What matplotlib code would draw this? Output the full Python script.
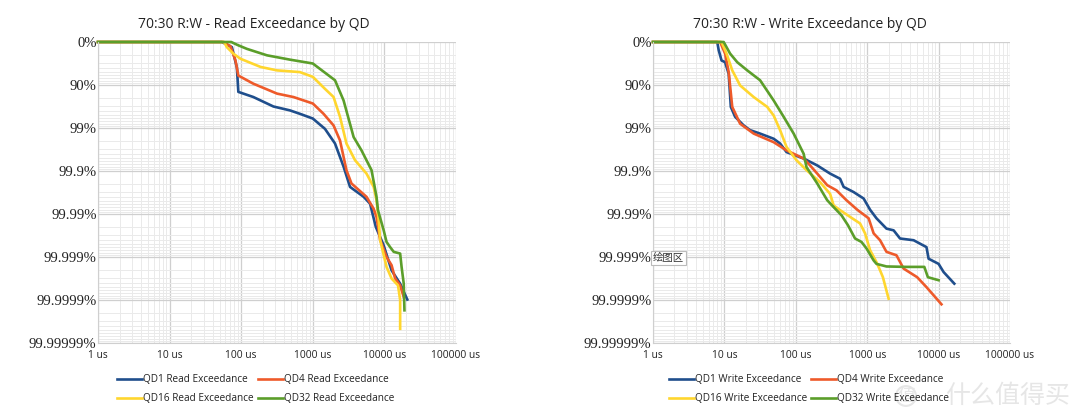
import numpy as np
import matplotlib
matplotlib.use("Agg")
import matplotlib.pyplot as plt
from matplotlib.ticker import LogLocator, NullFormatter

# x values are log10(latency in us); y values are "nines" = -log10(1 - p)
read_qd1_x = [0.0, 1.73, 1.87, 1.94, 1.96, 2.17, 2.45, 2.68, 2.82, 3.0, 3.17, 3.31, 3.43, 3.52, 3.71, 3.8, 3.88, 3.99, 4.1, 4.22, 4.32]
read_qd1_y = [0.0, 0.0, 0.12, 0.6, 1.16, 1.28, 1.5, 1.59, 1.67, 1.78, 2.02, 2.36, 2.9, 3.37, 3.6, 3.76, 4.3, 4.73, 5.31, 5.62, 5.99]
read_qd4_x = [0.0, 1.75, 1.85, 1.92, 1.96, 2.17, 2.5, 2.73, 3.0, 3.15, 3.29, 3.38, 3.47, 3.54, 3.75, 3.85, 3.89, 3.94, 4.03, 4.1, 4.15, 4.22, 4.27]
read_qd4_y = [0.0, 0.0, 0.1, 0.43, 0.78, 0.97, 1.2, 1.28, 1.43, 1.67, 1.94, 2.29, 2.98, 3.29, 3.6, 3.88, 4.07, 4.6, 5.0, 5.19, 5.5, 5.66, 5.93]
read_qd16_x = [0.0, 1.76, 1.8, 1.89, 1.99, 2.27, 2.5, 2.82, 3.0, 3.17, 3.29, 3.38, 3.47, 3.59, 3.75, 3.85, 3.89, 3.92, 3.94, 4.03, 4.1, 4.19, 4.22, 4.22]
read_qd16_y = [0.0, 0.0, 0.12, 0.27, 0.39, 0.58, 0.66, 0.7, 0.81, 1.09, 1.28, 1.74, 2.36, 2.75, 3.06, 3.37, 3.68, 4.15, 4.6, 5.23, 5.5, 5.66, 6.0, 6.67]
read_qd32_x = [0.0, 1.86, 1.95, 2.08, 2.36, 2.68, 3.0, 3.31, 3.43, 3.57, 3.68, 3.82, 3.89, 3.91, 3.99, 4.03, 4.08, 4.13, 4.22, 4.24, 4.27, 4.28]
read_qd32_y = [0.0, 0.0, 0.07, 0.16, 0.31, 0.41, 0.5, 0.89, 1.36, 2.21, 2.52, 2.98, 3.6, 3.91, 4.38, 4.65, 4.77, 4.88, 4.92, 5.23, 5.62, 6.24]

write_qd1_x = [0.0, 0.9, 0.92, 0.96, 1.01, 1.06, 1.09, 1.15, 1.27, 1.36, 1.5, 1.69, 1.78, 1.87, 2.11, 2.3, 2.48, 2.62, 2.67, 2.81, 2.95, 3.04, 3.13, 3.27, 3.37, 3.46, 3.65, 3.74, 3.83, 3.86, 4.0, 4.07, 4.22]
write_qd1_y = [0.0, 0.0, 0.19, 0.43, 0.47, 0.74, 1.51, 1.74, 1.94, 2.05, 2.13, 2.25, 2.36, 2.56, 2.71, 2.87, 3.06, 3.18, 3.37, 3.49, 3.64, 3.9, 4.1, 4.34, 4.38, 4.57, 4.61, 4.69, 4.77, 5.04, 5.16, 5.35, 5.62]
write_qd4_x = [0.0, 0.94, 1.01, 1.06, 1.11, 1.22, 1.41, 1.69, 1.87, 2.11, 2.2, 2.3, 2.44, 2.57, 2.71, 2.86, 3.02, 3.09, 3.18, 3.27, 3.41, 3.51, 3.7, 3.83, 4.04]
write_qd4_y = [0.0, 0.0, 0.27, 0.7, 1.51, 1.9, 2.13, 2.33, 2.52, 2.71, 2.87, 3.06, 3.33, 3.45, 3.68, 3.9, 4.1, 4.45, 4.61, 4.88, 4.96, 5.27, 5.47, 5.7, 6.1]
write_qd16_x = [0.0, 0.96, 1.03, 1.11, 1.22, 1.41, 1.6, 1.69, 1.78, 1.87, 2.01, 2.15, 2.34, 2.48, 2.53, 2.62, 2.79, 2.9, 2.97, 3.04, 3.13, 3.18, 3.22, 3.3]
write_qd16_y = [0.0, 0.0, 0.27, 0.66, 1.01, 1.28, 1.51, 1.71, 2.05, 2.44, 2.75, 2.98, 3.26, 3.53, 3.8, 3.91, 4.1, 4.22, 4.45, 4.84, 5.12, 5.31, 5.47, 5.97]
write_qd32_x = [0.0, 0.99, 1.08, 1.18, 1.32, 1.5, 1.69, 1.83, 1.97, 2.11, 2.15, 2.3, 2.44, 2.53, 2.64, 2.73, 2.83, 2.92, 2.99, 3.09, 3.13, 3.27, 3.55, 3.8, 3.85, 4.0]
write_qd32_y = [0.0, 0.0, 0.27, 0.47, 0.66, 0.89, 1.36, 1.74, 2.13, 2.6, 2.91, 3.29, 3.68, 3.84, 4.03, 4.26, 4.57, 4.65, 4.8, 5.08, 5.16, 5.22, 5.23, 5.23, 5.47, 5.54]

y_tick_labels = ["0%", "90%", "99%", "99.9%", "99.99%", "99.999%", "99.9999%", "99.99999%"]
x_tick_labels = ["1 us", "10 us", "100 us", "1000 us", "10000 us", "100000 us"]

colors = ["#1F4E8C", "#EE5A2A", "#FFD62E", "#5B9E2A"]
qd_names = ["QD1", "QD4", "QD16", "QD32"]

plt.rcParams['font.family'] = ['Open Sans', 'DejaVu Sans']

fig = plt.figure(figsize=(10.8, 4.2), dpi=100)
fig.patch.set_facecolor("white")

def setup(ax):
    ax.set_xscale('log')
    ax.set_yscale('log')
    ax.set_xlim(1, 1e5)
    ax.set_ylim(1e7, 1)
    ax.xaxis.set_minor_locator(LogLocator(base=10, subs=np.arange(2, 10)))
    ax.yaxis.set_minor_locator(LogLocator(base=10, subs=np.arange(2, 10)))
    ax.xaxis.set_minor_formatter(NullFormatter())
    ax.yaxis.set_minor_formatter(NullFormatter())
    ax.grid(True, which='major', color='#CFCFCF', linewidth=0.9)
    ax.grid(True, which='minor', color='#EAEAEA', linewidth=0.7)
    ax.tick_params(which='both', length=0)
    ax.tick_params(axis='x', pad=5)
    ax.tick_params(axis='y', pad=1)
    for s in ['top', 'right']:
        ax.spines[s].set_visible(False)
    for s in ['left', 'bottom']:
        ax.spines[s].set_color('#CFCFCF')
    ax.set_axisbelow(True)
    ax.set_yticks([10.0 ** k for k in range(8)])
    ax.set_yticklabels(y_tick_labels)
    ax.set_xticks([10.0 ** k for k in range(6)])
    ax.set_xticklabels(x_tick_labels)
    for lab in ax.get_yticklabels():
        lab.set_fontfamily('Liberation Serif')
        lab.set_fontsize(10.5)
        lab.set_color('#222222')
    for lab in ax.get_xticklabels():
        lab.set_fontsize(7.4)
        lab.set_color('#222222')

ax1 = fig.add_axes([98 / 1080, 1 - 343 / 420, 358 / 1080, 301 / 420])
ax2 = fig.add_axes([653 / 1080, 1 - 343 / 420, 357 / 1080, 301 / 420])
setup(ax1)
setup(ax2)

read_series = [(read_qd1_x, read_qd1_y), (read_qd4_x, read_qd4_y), (read_qd16_x, read_qd16_y), (read_qd32_x, read_qd32_y)]
write_series = [(write_qd1_x, write_qd1_y), (write_qd4_x, write_qd4_y), (write_qd16_x, write_qd16_y), (write_qd32_x, write_qd32_y)]

for (xs, ys), c, n in zip(read_series, colors, qd_names):
    ax1.plot(10.0 ** np.array(xs), 10.0 ** np.array(ys), color=c, lw=1.9, label=f"{n} Read Exceedance", clip_on=False)
for (xs, ys), c, n in zip(write_series, colors, qd_names):
    ax2.plot(10.0 ** np.array(xs), 10.0 ** np.array(ys), color=c, lw=1.9, label=f"{n} Write Exceedance", clip_on=False)

fig.text(254 / 1080, 1 - 25 / 420, "70:30 R:W - Read Exceedance by QD", ha='center', va='center', fontsize=10, color='#222222')
fig.text(810 / 1080, 1 - 25 / 420, "70:30 R:W - Write Exceedance by QD", ha='center', va='center', fontsize=10, color='#222222')

for ax, x0 in [(ax1, 117), (ax2, 669)]:
    h, l = ax.get_legend_handles_labels()
    order = [0, 2, 1, 3]
    fig.legend([h[i] for i in order], [l[i] for i in order], loc='upper left',
               bbox_to_anchor=(x0 / 1080, 1 - 374 / 420), ncol=2, frameon=False,
               fontsize=7.2, handlelength=2.5, handletextpad=0.1, columnspacing=0.4, labelspacing=0.8,
               borderaxespad=0, borderpad=0, labelcolor='#222222')

# Excel tooltip
fig.text(653 / 1080, 1 - 258 / 420, "绘图区", family=['Noto Sans CJK SC', 'DejaVu Sans'], fontsize=7.5, color='#333333',
         ha='left', va='center', bbox=dict(boxstyle='square,pad=0.15', fc='white', ec='#BBBBBB', lw=0.8))

# watermark
fig.text(906 / 1080, 1 - 396 / 420, "值", family=['Noto Sans CJK SC'], fontsize=13, color='#E6E6E6', ha='center', va='center',
         bbox=dict(boxstyle='circle,pad=0.05', fc='none', ec='#E6E6E6', lw=1.5))
fig.text(945 / 1080, 1 - 396 / 420, "什么值得买", family=['Noto Sans CJK SC'], fontsize=18, color='#E6E6E6', ha='left', va='center')

fig.savefig("out.png", dpi=100, facecolor="white")
